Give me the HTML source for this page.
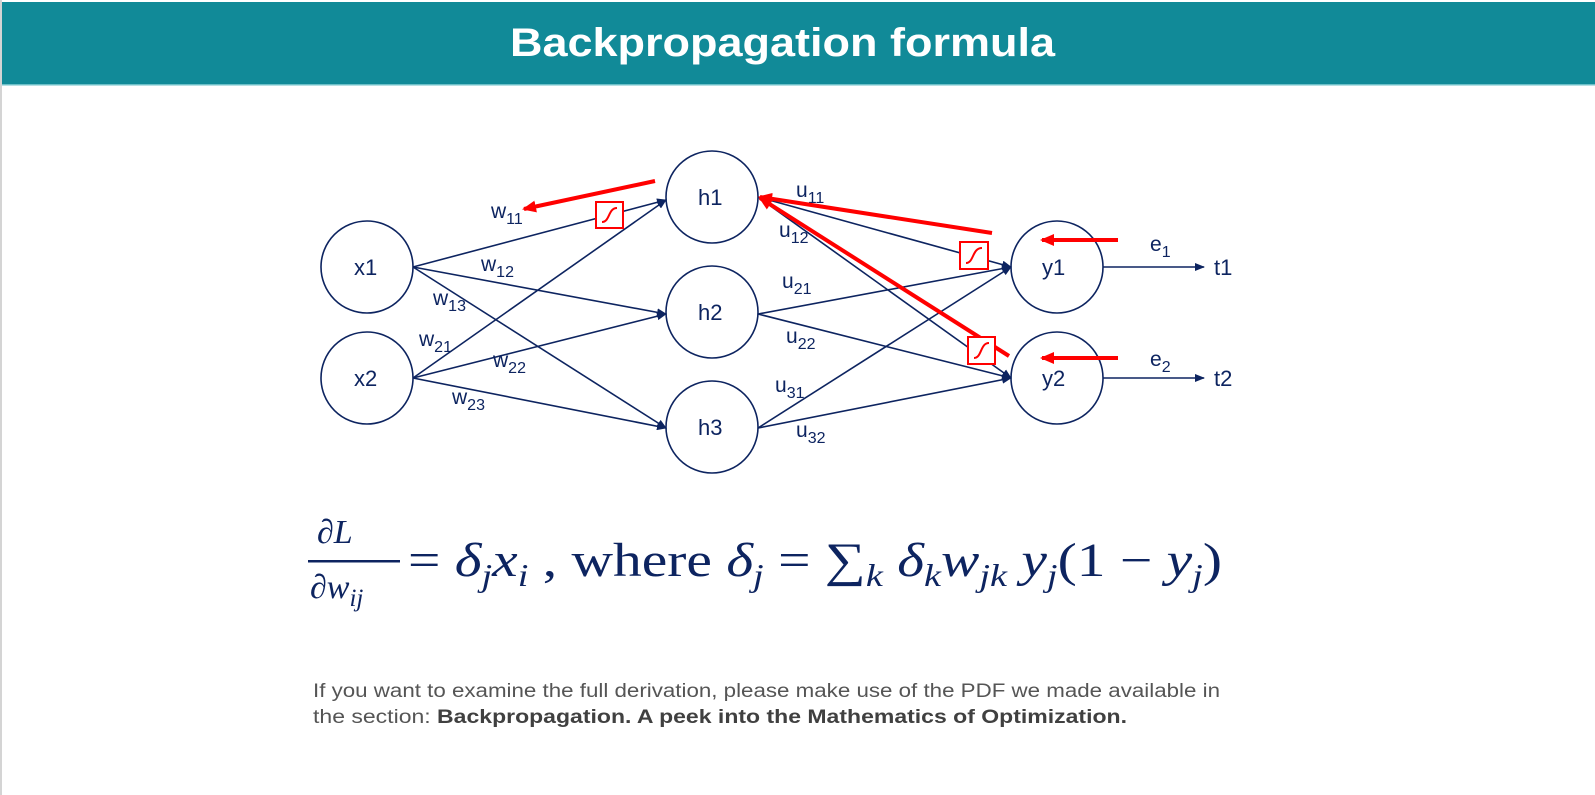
<!DOCTYPE html>
<html><head><meta charset="utf-8"><style>
html,body{margin:0;padding:0;background:#fff;width:1595px;height:795px;overflow:hidden}
svg{display:block}
</style></head><body>
<svg width="1595" height="795" viewBox="0 0 1595 795" xmlns="http://www.w3.org/2000/svg">
<defs>
<marker id="a" markerWidth="10" markerHeight="8" refX="9" refY="4" orient="auto" markerUnits="userSpaceOnUse"><path d="M0,0 L10,4 L0,8 z" fill="#0d2460"/></marker>
<marker id="r" markerWidth="14" markerHeight="12" refX="12" refY="6" orient="auto" markerUnits="userSpaceOnUse"><path d="M0,0 L14,6 L0,12 z" fill="#f00"/></marker>
</defs>
<rect x="0" y="0" width="2" height="795" fill="#d4d4d4"/>
<rect x="2" y="2" width="1593" height="83" fill="#118a98"/>
<rect x="2" y="84" width="1593" height="1.5" fill="#6cc0c8"/>
<text x="510" y="56" font-family="Liberation Sans, sans-serif" font-weight="bold" font-size="40" fill="#fff" textLength="545" lengthAdjust="spacingAndGlyphs">Backpropagation formula</text>

<g stroke="#0d2460" stroke-width="1.6" fill="none">
<circle cx="367" cy="267" r="46"/><circle cx="367" cy="378" r="46"/>
<circle cx="712" cy="197" r="46"/><circle cx="712" cy="312" r="46"/><circle cx="712" cy="427" r="46"/>
<circle cx="1057" cy="267" r="46"/><circle cx="1057" cy="378" r="46"/>
<g marker-end="url(#a)">
<line x1="413" y1="267" x2="666" y2="200"/>
<line x1="413" y1="267" x2="666" y2="314"/>
<line x1="413" y1="267" x2="666" y2="428"/>
<line x1="413" y1="378" x2="666" y2="200"/>
<line x1="413" y1="378" x2="666" y2="314"/>
<line x1="413" y1="378" x2="666" y2="428"/>
<line x1="758" y1="197" x2="1011" y2="267"/>
<line x1="758" y1="197" x2="1011" y2="378"/>
<line x1="758" y1="314" x2="1011" y2="267"/>
<line x1="758" y1="314" x2="1011" y2="378"/>
<line x1="758" y1="428" x2="1011" y2="267"/>
<line x1="758" y1="428" x2="1011" y2="378"/>
<line x1="1103" y1="267" x2="1204" y2="267"/>
<line x1="1103" y1="378" x2="1204" y2="378"/>
</g>
</g>
<g font-family="Liberation Sans, sans-serif" fill="#0d2460" font-size="22">
<text x="354" y="275">x1</text><text x="354" y="386">x2</text>
<text x="698" y="205">h1</text><text x="698" y="320">h2</text><text x="698" y="435">h3</text>
<text x="1042" y="275">y1</text><text x="1042" y="386">y2</text>
<text x="1214" y="275">t1</text><text x="1214" y="386">t2</text>
</g>
<g font-family="Liberation Sans, sans-serif" fill="#0d2460" font-size="21">
<text x="491" y="218">w<tspan font-size="16" dy="6">11</tspan></text>
<text x="481" y="271">w<tspan font-size="16" dy="6">12</tspan></text>
<text x="433" y="305">w<tspan font-size="16" dy="6">13</tspan></text>
<text x="419" y="346">w<tspan font-size="16" dy="6">21</tspan></text>
<text x="493" y="367">w<tspan font-size="16" dy="6">22</tspan></text>
<text x="452" y="404">w<tspan font-size="16" dy="6">23</tspan></text>
<text x="796" y="197">u<tspan font-size="16" dy="6">11</tspan></text>
<text x="779" y="237">u<tspan font-size="16" dy="6">12</tspan></text>
<text x="782" y="288">u<tspan font-size="16" dy="6">21</tspan></text>
<text x="786" y="343">u<tspan font-size="16" dy="6">22</tspan></text>
<text x="775" y="392">u<tspan font-size="16" dy="6">31</tspan></text>
<text x="796" y="437">u<tspan font-size="16" dy="6">32</tspan></text>
<text x="1150" y="251">e<tspan font-size="16" dy="6">1</tspan></text>
<text x="1150" y="366">e<tspan font-size="16" dy="6">2</tspan></text>
</g>
<g stroke="#f00" stroke-width="4" fill="none">
<line x1="655" y1="181" x2="524" y2="209" marker-end="url(#r)"/>
<line x1="992" y1="233" x2="760" y2="197" marker-end="url(#r)"/>
<line x1="1009" y1="356" x2="760" y2="198" marker-end="url(#r)"/>
<line x1="1118" y1="240" x2="1042" y2="240" marker-end="url(#r)"/>
<line x1="1118" y1="358" x2="1042" y2="358" marker-end="url(#r)"/>
</g>
<g stroke="#f00" stroke-width="2" fill="#fff">
<rect x="596" y="202" width="27" height="26"/>
<rect x="960" y="242" width="28" height="27"/>
<rect x="968" y="337" width="27" height="27"/>
</g>
<g stroke="#f00" stroke-width="2" fill="none">
<path d="M602,222 C610,222 608,208 617,208"/>
<path d="M966,263 C974,263 972,248 982,248"/>
<path d="M974,358 C982,358 980,343 989,343"/>
</g>
<g font-family="Liberation Serif, serif" fill="#0d2460">
<text x="317" y="543" font-size="34" font-style="italic">∂L</text>
<rect x="308" y="560" width="92" height="2.5" fill="#0d2460"/>
<text x="310" y="598" font-size="34" font-style="italic">∂w<tspan font-size="25" dy="8">ij</tspan></text>
<text x="408" y="576" font-size="48" textLength="814" lengthAdjust="spacingAndGlyphs">= <tspan font-style="italic">δ</tspan><tspan font-style="italic" font-size="32" dy="10">j</tspan><tspan font-style="italic" dy="-10">x</tspan><tspan font-style="italic" font-size="32" dy="10">i</tspan><tspan dy="-10"> , where </tspan><tspan font-style="italic">δ</tspan><tspan font-style="italic" font-size="32" dy="10">j</tspan><tspan dy="-10"> = ∑</tspan><tspan font-style="italic" font-size="32" dy="10">k</tspan><tspan font-style="italic" dy="-10"> δ</tspan><tspan font-style="italic" font-size="32" dy="10">k</tspan><tspan font-style="italic" dy="-10">w</tspan><tspan font-style="italic" font-size="32" dy="10">jk</tspan><tspan font-style="italic" dy="-10"> y</tspan><tspan font-style="italic" font-size="32" dy="10">j</tspan><tspan dy="-10">(1 − </tspan><tspan font-style="italic">y</tspan><tspan font-style="italic" font-size="32" dy="10">j</tspan><tspan dy="-10">)</tspan></text>
</g>
<g font-family="Liberation Sans, sans-serif" fill="#555" font-size="19">
<text x="313" y="697" textLength="907" lengthAdjust="spacingAndGlyphs">If you want to examine the full derivation, please make use of the PDF we made available in</text>
<text x="313" y="723" textLength="814" lengthAdjust="spacingAndGlyphs">the section:  <tspan font-weight="bold" fill="#404040">Backpropagation. A peek into the Mathematics of Optimization.</tspan></text>
</g>
</svg>
</body></html>
